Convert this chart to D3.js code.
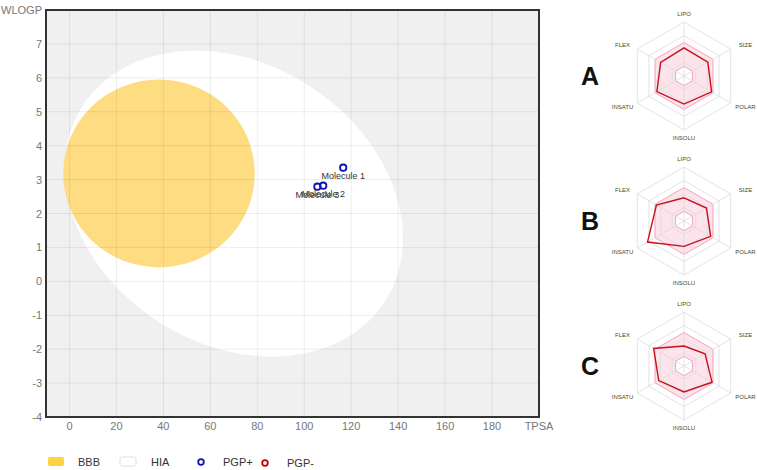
<!DOCTYPE html>
<html>
<head>
<meta charset="utf-8">
<script src="https://cdn.jsdelivr.net/npm/d3@7"></script>
<style>
  body { margin: 0; background: #fff; }
  text { font-family: "Liberation Sans", Arial, sans-serif; }
</style>
</head>
<body>
<div id="chart-area"></div>
<script>

// SVG size
var width = 757,
	height = 470;

// BOILED-Egg data
var tpsaTicks = [0, 20, 40, 60, 80, 100, 120, 140, 160, 180];
var wlogpTicks = [-4, -3, -2, -1, 0, 1, 2, 3, 4, 5, 6, 7];

var molNames = ["Molecule 1", "Molecule 2", "Molecule 3"];
var molTpsa = [116.6, 108.1, 105.6];
var molWlogp = [3.35, 2.82, 2.79];
var molPgp = ["PGP+", "PGP+", "PGP+"];

// egg regions: centre, semi axes (data units), rotation (deg)
var eggNames = ["HIA", "BBB"];
var eggTpsa = [70.0, 38.12];
var eggWlogp = [2.29, 3.18];
var eggSemiTpsa = [76.7, 40.8];
var eggSemiWlogp = [4.13, 2.77];
var eggAngle = [33, 0];

var legendNames = ["BBB", "HIA", "PGP+", "PGP-"];

// radar data
var radarAxes = ["LIPO", "SIZE", "POLAR", "INSOLU", "INSATU", "FLEX"];
var radarNames = ["A", "B", "C"];
var radarA = [0.52, 0.51, 0.59, 0.52, 0.58, 0.50];
var radarB = [0.43, 0.48, 0.57, 0.47, 0.78, 0.59];
var radarC = [0.37, 0.45, 0.60, 0.48, 0.54, 0.65];
var radarValues = [radarA, radarB, radarC];
var optimalRange = [0.18, 0.62];
var gridLevels = [0.25, 0.5, 0.75, 1];


var svg = d3.select("#chart-area")
	.append("svg")
	.attr("width", width)
	.attr("height", height);

var plot = {left: 46, top: 10, right: 539, bottom: 417};

var x = d3.scaleLinear().domain([-10, 200]).range([plot.left, plot.right]);
var y = d3.scaleLinear().domain([-4, 8]).range([plot.bottom, plot.top]);

// background
svg.append("rect")
	.attr("x", plot.left).attr("y", plot.top)
	.attr("width", plot.right - plot.left)
	.attr("height", plot.bottom - plot.top)
	.attr("fill", "#f0f0f0");

var eggColors = {"HIA": "#ffffff", "BBB": "#fedc82"};

svg.selectAll("ellipse.egg").data(eggNames).enter()
	.append("ellipse")
	.attr("class", "egg")
	.attr("cx", 0).attr("cy", 0)
	.attr("rx", function (d, i) {return x(eggTpsa[i] + eggSemiTpsa[i]) - x(eggTpsa[i])})
	.attr("ry", function (d, i) {return y(eggWlogp[i]) - y(eggWlogp[i] + eggSemiWlogp[i])})
	.attr("transform", function (d, i) {
		return "translate(" + x(eggTpsa[i]) + "," + y(eggWlogp[i]) + ") rotate(" + eggAngle[i] + ")";
	})
	.attr("fill", function (d) {return eggColors[d]});

// grid on top
svg.append("g").selectAll("line").data(tpsaTicks).enter()
	.append("line")
	.attr("x1", function (d) {return x(d)}).attr("x2", function (d) {return x(d)})
	.attr("y1", plot.top).attr("y2", plot.bottom)
	.attr("stroke", "rgba(0,0,0,0.07)");

svg.append("g").selectAll("line").data(wlogpTicks).enter()
	.append("line")
	.attr("y1", function (d) {return y(d)}).attr("y2", function (d) {return y(d)})
	.attr("x1", plot.left).attr("x2", plot.right)
	.attr("stroke", "rgba(0,0,0,0.07)");

// frame
svg.append("rect")
	.attr("x", plot.left).attr("y", plot.top)
	.attr("width", plot.right - plot.left)
	.attr("height", plot.bottom - plot.top)
	.attr("fill", "none")
	.attr("stroke", "#333")
	.attr("stroke-width", 2);

// tick labels
svg.append("g").selectAll("text").data(tpsaTicks).enter()
	.append("text")
	.attr("x", function (d) {return x(d)})
	.attr("y", plot.bottom + 13)
	.attr("text-anchor", "middle")
	.attr("font-size", 11)
	.attr("fill", "#777")
	.text(function (d) {return d});

svg.append("text")
	.attr("x", x(200)).attr("y", plot.bottom + 13)
	.attr("text-anchor", "middle")
	.attr("font-size", 11).attr("fill", "#777")
	.text("TPSA");

svg.append("g").selectAll("text").data(wlogpTicks).enter()
	.append("text")
	.attr("x", plot.left - 4)
	.attr("y", function (d) {return y(d) + 4})
	.attr("text-anchor", "end")
	.attr("font-size", 11)
	.attr("fill", "#777")
	.text(function (d) {return d});

svg.append("text")
	.attr("x", plot.left - 4).attr("y", y(8) + 4)
	.attr("text-anchor", "end")
	.attr("font-size", 11).attr("fill", "#777")
	.text("WLOGP");

// molecules
var pgpColor = {"PGP+": "#0a14b4", "PGP-": "#c80000"};

svg.append("g").selectAll("circle").data(molNames).enter()
	.append("circle")
	.attr("cx", function (d, i) {return x(molTpsa[i])})
	.attr("cy", function (d, i) {return y(molWlogp[i])})
	.attr("r", 3.2)
	.attr("fill", "none")
	.attr("stroke", function (d, i) {return pgpColor[molPgp[i]]})
	.attr("stroke-width", 1.8);

svg.append("g").selectAll("text").data(molNames).enter()
	.append("text")
	.attr("x", function (d, i) {return x(molTpsa[i])})
	.attr("y", function (d, i) {return y(molWlogp[i]) + 11})
	.attr("text-anchor", "middle")
	.attr("font-size", 9)
	.attr("fill", "#333")
	.text(function (d) {return d});

// legend
var legendX = [48, 120, 201, 265];
var legendTextX = [78, 151, 223, 287];
var legendY = 462;
var legend = svg.append("g");

legend.append("rect")
	.attr("x", legendX[0]).attr("y", legendY - 5)
	.attr("width", 16).attr("height", 9).attr("rx", 2)
	.attr("fill", "#ffd33d");
legend.append("rect")
	.attr("x", legendX[1]).attr("y", legendY - 5)
	.attr("width", 16).attr("height", 9).attr("rx", 2)
	.attr("fill", "#fff").attr("stroke", "#e2e2e2");
legend.append("circle")
	.attr("cx", legendX[2]).attr("cy", legendY).attr("r", 2.8)
	.attr("fill", "none").attr("stroke", pgpColor["PGP+"]).attr("stroke-width", 1.8);
legend.append("circle")
	.attr("cx", legendX[3]).attr("cy", legendY + 1).attr("r", 2.8)
	.attr("fill", "none").attr("stroke", pgpColor["PGP-"]).attr("stroke-width", 1.8);

legend.selectAll("text").data(legendNames).enter()
	.append("text")
	.attr("x", function (d, i) {return legendTextX[i]})
	.attr("y", function (d, i) {return legendY + 4 + (i == 3 ? 1 : 0)})
	.attr("font-size", 11)
	.attr("fill", "#333")
	.text(function (d) {return d});


// radars
var r = d3.scaleLinear().domain([0, 1]).range([0, 54]);
var angle = d3.scalePoint().domain(radarAxes).range([0, 2 * Math.PI * 5 / 6]);
var radarCx = 684;
var radarCy = [76, 221, 366];

var hexLine = d3.lineRadial()
	.angle(function (d) {return angle(d.axis)})
	.radius(function (d) {return r(d.value)})
	.curve(d3.curveLinearClosed);

var ring = function (v) {
	return radarAxes.map(function (a) {return {axis: a, value: v}});
};

radarNames.forEach(function (name, k) {
	var g = svg.append("g")
		.attr("transform", "translate(" + radarCx + "," + radarCy[k] + ")");

	// pink optimal zone
	g.append("path")
		.attr("d", hexLine(ring(optimalRange[1])) + hexLine(ring(optimalRange[0])))
		.attr("fill-rule", "evenodd")
		.attr("fill", "rgba(240,60,120,0.14)")
		.attr("stroke", "#f2a3bd")
		.attr("stroke-width", 1);

	// grid
	g.selectAll("path.grid").data(gridLevels).enter()
		.append("path")
		.attr("class", "grid")
		.attr("d", function (v) {return hexLine(ring(v))})
		.attr("fill", "none")
		.attr("stroke", "#dcdcdc")
		.attr("stroke-width", 0.8);

	g.selectAll("line.axis").data(radarAxes).enter()
		.append("line")
		.attr("class", "axis")
		.attr("x1", 0).attr("y1", 0)
		.attr("x2", function (d) {return Math.sin(angle(d)) * r(1)})
		.attr("y2", function (d) {return -Math.cos(angle(d)) * r(1)})
		.attr("stroke", "#dcdcdc")
		.attr("stroke-width", 0.8);

	// molecule polygon
	var vals = radarValues[k].map(function (v, i) {return {axis: radarAxes[i], value: v}});
	g.append("path")
		.attr("d", hexLine(vals))
		.attr("fill", "none")
		.attr("stroke", "#c4121a")
		.attr("stroke-width", 1.4);

	g.selectAll("text.lbl").data(radarAxes).enter()
		.append("text")
		.attr("class", "lbl")
		.attr("x", function (d) {return Math.sin(angle(d)) * 71})
		.attr("y", function (d) {return -Math.cos(angle(d)) * 62 + 2})
		.attr("text-anchor", "middle")
		.attr("font-size", 6)
		.attr("fill", "#4a4a1c")
		.text(function (d) {return d});

	svg.append("text")
		.attr("x", 590).attr("y", radarCy[k] + 9)
		.attr("text-anchor", "middle")
		.attr("font-size", 25)
		.attr("font-weight", "bold")
		.attr("fill", "#111")
		.text(name);
});

</script>
</body>
</html>
